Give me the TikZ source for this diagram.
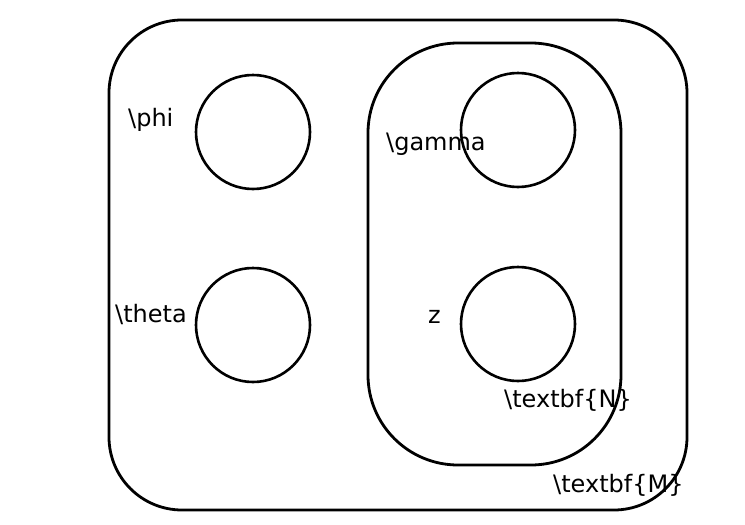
\documentclass[tikz,border=0pt]{standalone}
\usepackage{fontspec}
\setmainfont{DejaVu Sans}
\begin{document}
\begin{tikzpicture}[x=1pt,y=-1pt,
  plate/.style={draw,line width=2.8pt},
  var/.style={draw,circle,line width=2.6pt,minimum size=114pt,inner sep=0pt},
  lbl/.style={anchor=base west,inner sep=0pt,font=\fontsize{24}{28}\selectfont}]
\useasboundingbox (0,0) rectangle (745,525);
\draw[plate,rounded corners=73pt] (109,20) rectangle (687,510);
\draw[plate,rounded corners=90pt] (368,43) rectangle (621,465);
\node[var] (phi) at (253,132) {};
\node[var] (theta) at (253,325) {};
\node[var] (gamma) at (518,130) {};
\node[var] (z) at (518,324) {};
\node[lbl] (lphi) at (128,126) {\textbackslash phi};
\node[lbl] (lgamma) at (386,150) {\textbackslash gamma};
\node[lbl] (ltheta) at (115,322) {\textbackslash theta};
\node[lbl] (lz) at (428,323) {z};
\node[lbl] (lN) at (504,407) {\textbackslash textbf\{N\}};
\node[lbl] (lM) at (553,492) {\textbackslash textbf\{M\}};
\end{tikzpicture}
\end{document}
